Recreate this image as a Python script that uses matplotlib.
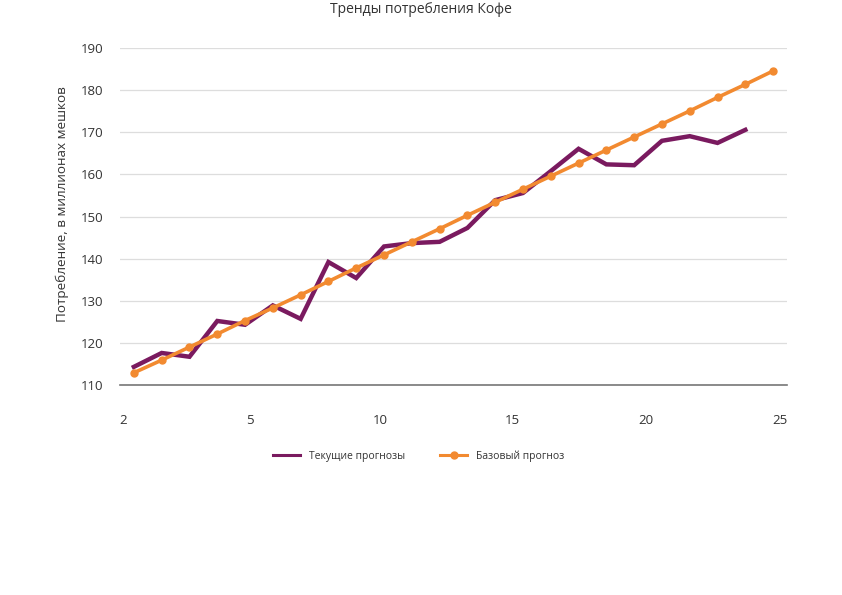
import matplotlib
matplotlib.use("Agg")
import matplotlib.pyplot as plt

plt.rcParams['font.family'] = ['Open Sans', 'DejaVu Sans']

# data
current = [114.3, 117.6, 116.7, 125.2, 124.3, 128.9, 125.7, 139.2, 135.4, 142.9,
           143.7, 144.0, 147.3, 153.9, 155.6, 160.8, 166.1, 162.4, 162.2, 168.0,
           169.1, 167.5, 170.6]
baseline = [112.9, 115.9, 119.0, 122.1, 125.3, 128.3, 131.4, 134.6, 137.8, 140.9,
            144.0, 147.1, 150.3, 153.4, 156.5, 159.6, 162.7, 165.8, 168.9, 172.0,
            175.1, 178.3, 181.4, 184.6]
x_labels = ["2", "5", "10", "15", "20", "25"]
x_label_pos = [-0.39, 4.18, 8.86, 13.6, 18.43, 23.25]
y_ticks = [110, 120, 130, 140, 150, 160, 170, 180, 190]

purple = "#7a1a5f"
orange = "#f28a30"

fig = plt.figure(figsize=(8.42, 5.95), dpi=100)
ax = fig.add_axes([0.1425, 0.353, 0.7922, 0.566])

ax.plot(range(len(current)), current, color=purple, lw=3.2,
        solid_joinstyle='miter', label="Текущие прогнозы", zorder=3)
ax.plot(range(len(baseline)), baseline, color=orange, lw=2.6, marker='o',
        ms=5, label="Базовый прогноз", zorder=4)

n = len(baseline)
ax.set_xlim(-0.5, n - 0.5)
ax.set_ylim(110, 190)
ax.set_yticks(y_ticks)
ax.set_xticks(x_label_pos)
ax.set_xticklabels(x_labels)
ax.tick_params(axis='both', length=0, labelsize=9.5, colors='#333333')
ax.tick_params(axis='x', pad=21)
ax.tick_params(axis='y', pad=12)

ax.grid(axis='y', color='#dddddd', lw=0.9)
ax.grid(axis='x', visible=False)
ax.set_axisbelow(True)
for s in ['top', 'right', 'left']:
    ax.spines[s].set_visible(False)
ax.spines['bottom'].set_color('#777777')
ax.spines['bottom'].set_linewidth(1.2)

ax.set_ylabel("Потребление, в миллионах мешков", fontsize=9.7, color='#333333')
ax.yaxis.set_label_coords(-0.076, 0.537)
fig.text(0.5, 0.997, "Тренды потребления Кофе", ha='center', va='top',
         fontsize=10, color='#333333')

leg = fig.legend(loc='center', bbox_to_anchor=(0.497, 0.233), ncol=2, frameon=False,
                 fontsize=7.5, handlelength=2.6, columnspacing=3.4,
                 labelcolor='#333333')
leg.get_lines()[0].set_linewidth(2.2)
leg.get_lines()[1].set_linewidth(2.2)

fig.savefig("out.png", dpi=100)
